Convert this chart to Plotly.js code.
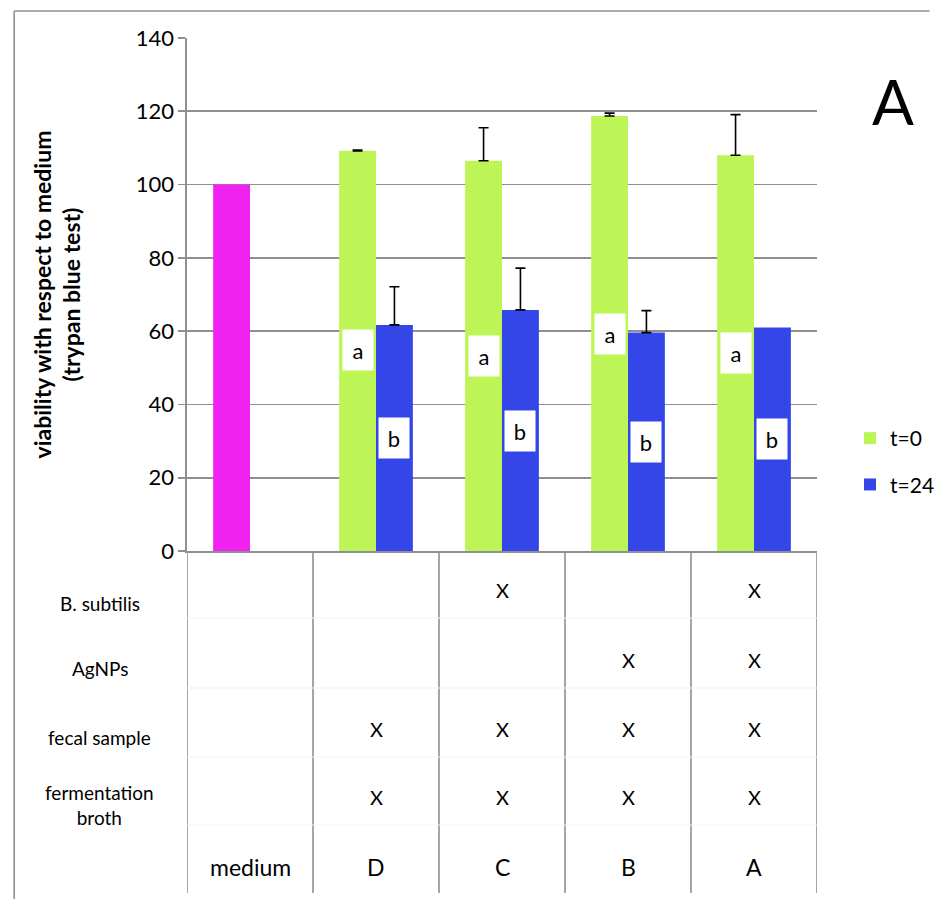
<!DOCTYPE html>
<html>
<head>
<meta charset="utf-8">
<script src="https://cdn.plot.ly/plotly-3.0.1.min.js"></script>
<style>html,body{margin:0;padding:0;background:#fff;}#chart{width:952px;height:899px;}</style>
</head>
<body>
<div id="chart"></div>
<script>
// ---- data ----
const categories = ["medium", "D", "C", "B", "A"];
const mediumCat = ["medium"];
const mediumValue = [100];
const groupCats = ["D", "C", "B", "A"];
const t0Values = [109.2, 106.5, 118.7, 108.0];
const t0ErrUp = [0.2, 9.0, 0.8, 11.1];
const t24Values = [61.7, 65.8, 59.6, 61.0];
const t24ErrUp = [10.4, 11.4, 6.0, null];   // no error bar shown for A at t=24
const t0Letters = ["a", "a", "a", "a"];
const t0LetterY = [54.9, 53.2, 59.2, 54.0];
const t24Letters = ["b", "b", "b", "b"];
const t24LetterY = [30.8, 32.8, 29.7, 30.6];
const tableRowLabels = ["B. subtilis", "AgNPs", "fecal sample", "fermentation<br>broth"];
const rowBsubtilis = ["", "", "X", "", "X"];
const rowAgNPs = ["", "", "", "X", "X"];
const rowFecal = ["", "X", "X", "X", "X"];
const rowFermentation = ["", "X", "X", "X", "X"];
const bottomLabels = ["medium", "D", "C", "B", "A"];
const panelLetter = "A";

// ---- layout helpers (pixel -> paper) ----
const L = 187, R = 836, T = 38, B = 551;
const px = p => (p - L) / (R - L);
const py = p => (B - p) / (B - T);

const FONT = "Lato, 'Open Sans', sans-serif";
const GREEN = "#bef556", BLUE = "#3446e8", MAGENTA = "#f022f0", GRID = "#8f8f8f";

const errStyle = {type: "data", symmetric: false, color: "#000", thickness: 1.6, width: 5};

// split t=24 points by whether they carry an error bar
const withErr = t24ErrUp.map((e, i) => e !== null ? i : -1).filter(i => i >= 0);
const noErr = t24ErrUp.map((e, i) => e === null ? i : -1).filter(i => i >= 0);

const traces = [
  {type: "bar", x: mediumCat, y: mediumValue, name: "medium", offsetgroup: "t0",
   marker: {color: MAGENTA}, showlegend: false},
  {type: "bar", x: groupCats, y: t0Values, name: "t=0", offsetgroup: "t0", legendgroup: "g0",
   marker: {color: GREEN},
   error_y: Object.assign({}, errStyle, {array: t0ErrUp, arrayminus: t0ErrUp.map(() => 0)})},
  {type: "bar", x: withErr.map(i => groupCats[i]), y: withErr.map(i => t24Values[i]), name: "t=24",
   offsetgroup: "t24", legendgroup: "g1", marker: {color: BLUE},
   error_y: Object.assign({}, errStyle, {array: withErr.map(i => t24ErrUp[i]), arrayminus: withErr.map(() => 0)})},
  {type: "bar", x: noErr.map(i => groupCats[i]), y: noErr.map(i => t24Values[i]), name: "t=24",
   offsetgroup: "t24", legendgroup: "g1", showlegend: false, marker: {color: BLUE}}
];

const annotations = [];
const shapes = [];
const barOff = 0.146;

groupCats.forEach((c, i) => {
  const idx = categories.indexOf(c);
  annotations.push({x: idx - barOff, y: t0LetterY[i], xref: "x", yref: "y", text: t0Letters[i],
    xanchor: "center", yanchor: "middle",
    showarrow: false, bgcolor: "#fff", width: 28, height: 38, font: {family: FONT, size: 22, color: "#000"}});
  annotations.push({x: idx + barOff, y: t24LetterY[i], xref: "x", yref: "y", text: t24Letters[i],
    xanchor: "center", yanchor: "middle",
    showarrow: false, bgcolor: "#fff", width: 28, height: 38, font: {family: FONT, size: 22, color: "#000"}});
});

// table
const rowLabelY = [603, 669, 737, 805];
const rowMarkY = [590, 660, 729, 797];
const rowMarks = [rowBsubtilis, rowAgNPs, rowFecal, rowFermentation];
tableRowLabels.forEach((lab, r) => {
  annotations.push({x: px(97), y: py(rowLabelY[r]), xref: "paper", yref: "paper", text: lab, showarrow: false,
    xanchor: "center", yanchor: "middle", align: "center", font: {family: FONT, size: 19, color: "#000"}});
  rowMarks[r].forEach((m, ci) => {
    if (m) annotations.push({x: ci, y: py(rowMarkY[r]), xref: "x", yref: "paper", text: m, showarrow: false,
      xanchor: "center", yanchor: "middle", font: {family: FONT, size: 20, color: "#000"}});
  });
});
bottomLabels.forEach((lab, ci) => {
  annotations.push({x: ci, y: py(867), xref: "x", yref: "paper", text: lab, showarrow: false,
    xanchor: "center", yanchor: "middle", font: {family: FONT, size: 23, color: "#000"}});
});
annotations.push({x: px(914), y: py(101), xref: "paper", yref: "paper", text: panelLetter, showarrow: false,
  xanchor: "center", yanchor: "middle", font: {family: FONT, size: 62, color: "#000"}});

for (let k = 0; k <= categories.length; k++) {
  shapes.push({type: "line", xref: "x", yref: "paper", x0: k - 0.5, x1: k - 0.5, y0: 0, y1: py(893),
    line: {color: GRID, width: 1.6}});
}
[618, 688, 757, 825].forEach(yy => {
  shapes.push({type: "line", xref: "paper", yref: "paper", x0: 0, x1: 1, y0: py(yy), y1: py(yy),
    line: {color: "#f3f3f3", width: 1}});
});
// outer frame
shapes.push({type: "line", xref: "paper", yref: "paper", x0: px(9), x1: px(952), y0: py(11), y1: py(11), line: {color: GRID, width: 1.6}});
shapes.push({type: "line", xref: "paper", yref: "paper", x0: px(9), x1: px(9), y0: py(11), y1: py(899), line: {color: GRID, width: 1.6}});

const layout = {
  width: 952, height: 899,
  margin: {l: L, r: 952 - R, t: T, b: 899 - B, pad: 0},
  paper_bgcolor: "#fff", plot_bgcolor: "#fff",
  font: {family: FONT, color: "#000"},
  barmode: "group", bargap: 0.415, bargroupgap: 0,
  showlegend: true,
  legend: {x: px(870), y: py(418), xanchor: "left", yanchor: "top", font: {family: FONT, size: 21, color: "#000"},
    tracegroupgap: 16, itemwidth: 30, bgcolor: "rgba(0,0,0,0)"},
  xaxis: {type: "category", categoryorder: "array", categoryarray: categories, range: [-0.5, 4.5],
    showticklabels: false, ticks: "", showgrid: false, showline: true, linecolor: GRID, linewidth: 1.6,
    zeroline: false, fixedrange: true},
  yaxis: {range: [0, 140], dtick: 20, tick0: 0, showgrid: true, gridcolor: GRID, gridwidth: 1.6,
    showline: true, linecolor: GRID, linewidth: 1.6, ticks: "outside", ticklen: 7, tickcolor: GRID, tickwidth: 1.6,
    tickfont: {family: FONT, size: 22, color: "#000"}, zeroline: false, automargin: false,
    title: {text: "<b>viability with respect to medium</b><br><b>(trypan blue test)</b>", standoff: 48,
      font: {family: FONT, size: 23, color: "#000"}}},
  annotations: annotations,
  shapes: shapes
};

Plotly.newPlot("chart", traces, layout, {displayModeBar: false, staticPlot: true});
</script>
</body>
</html>
